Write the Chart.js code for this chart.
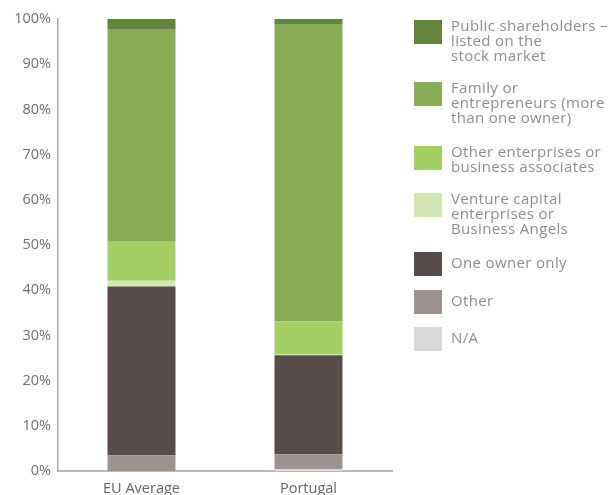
<!DOCTYPE html>
<html>
<head>
<meta charset="utf-8">
<script src="https://cdn.jsdelivr.net/npm/chart.js@4"></script>
<style>
  html, body { margin: 0; padding: 0; background: #fff; }
  #wrap { position: relative; width: 614px; height: 495px; }
  #c { position: absolute; left: 0; top: 0; }
  .leg { position: absolute; left: 414px; font-family: "Open Sans", sans-serif; font-size: 15px; letter-spacing: 0.35px; line-height: 15px; color: #8d8d8d; }
  .leg .sw { position: absolute; left: 0; top: 0; width: 28px; height: 24px; }
  .leg .tx { position: absolute; left: 37px; top: -2px; white-space: nowrap; }
</style>
</head>
<body>
<div id="wrap">
  <canvas id="c" width="614" height="495"></canvas>
</div>
<script>
const categories = ["EU Average", "Portugal"];
const seriesNames = [
  "N/A",
  "Other",
  "One owner only",
  "Venture capital enterprises or Business Angels",
  "Other enterprises or business associates",
  "Family or entrepreneurs (more than one owner)",
  "Public shareholders – listed on the stock market"
];
const legendLines = [
  ["N/A"],
  ["Other"],
  ["One owner only"],
  ["Venture capital", "enterprises or", "Business Angels"],
  ["Other enterprises or", "business associates"],
  ["Family or", "entrepreneurs (more", "than one owner)"],
  ["Public shareholders –", "listed on the", "stock market"]
];
const naValues = [0, 0.4];
const otherValues = [3.5, 3.3];
const oneOwnerValues = [37.3, 21.9];
const ventureValues = [1.3, 0.2];
const otherEnterprisesValues = [8.6, 7.3];
const familyValues = [46.9, 65.8];
const publicValues = [2.4, 1.1];
const yTicks = [0, 10, 20, 30, 40, 50, 60, 70, 80, 90, 100];

const colors = ["#dadada", "#9c9391", "#564d4b", "#d3e7b5", "#a4cf65", "#89ad56", "#63853e"];
const allValues = [naValues, otherValues, oneOwnerValues, ventureValues, otherEnterprisesValues, familyValues, publicValues];
const legendTops = [327, 290, 252, 193, 146, 82, 20];

const datasets = seriesNames.map((n, i) => ({
  label: n,
  data: allValues[i],
  backgroundColor: colors[i],
  borderWidth: 0,
  categoryPercentage: 1,
  barPercentage: 0.407
}));

new Chart(document.getElementById('c'), {
  type: 'bar',
  data: { labels: categories, datasets },
  options: {
    responsive: false,
    animation: false,
    layout: { padding: { top: 19, right: 222, left: 0, bottom: 0 } },
    plugins: { legend: { display: false }, tooltip: { enabled: false } },
    scales: {
      x: {
        stacked: true,
        grid: { display: false, drawTicks: false },
        border: { display: true, color: '#bababa', width: 2 },
        ticks: { color: '#666', font: { family: 'Open Sans', size: 14.5 }, padding: 9 },
        afterFit: s => { s.height = 24; }
      },
      y: {
        stacked: true,
        min: 0, max: 100,
        afterBuildTicks: s => { s.ticks = yTicks.map(v => ({ value: v })); },
        grid: { display: false, drawTicks: false },
        border: { display: true, color: '#a8a8a8', width: 1.5 },
        ticks: { color: '#707070', font: { family: 'Open Sans', size: 14.5 }, padding: 7, callback: v => v + '%' },
        afterFit: s => { s.width = 58; }
      }
    }
  }
});

const wrap = document.getElementById('wrap');
seriesNames.forEach((n, i) => {
  const d = document.createElement('div');
  d.className = 'leg';
  d.style.top = legendTops[i] + 'px';
  const sw = document.createElement('div');
  sw.className = 'sw';
  sw.style.background = colors[i];
  const tx = document.createElement('div');
  tx.className = 'tx';
  if (legendLines[i].length === 1) tx.style.top = '3px';
  tx.innerHTML = legendLines[i].join('<br>');
  d.appendChild(sw); d.appendChild(tx);
  wrap.appendChild(d);
});
</script>
</body>
</html>
